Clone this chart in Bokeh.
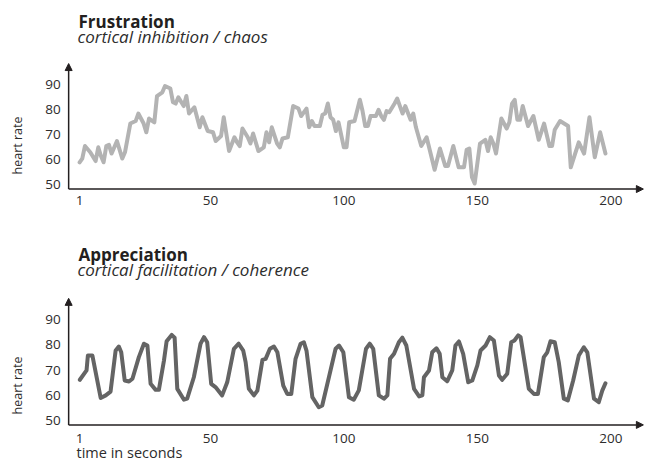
from bokeh.plotting import figure
from bokeh.layouts import column
from bokeh.models import Arrow, NormalHead, FixedTicker, Range1d, Label
from bokeh.embed import file_html
from bokeh.resources import INLINE

# ---- data ----
frus_t = [1, 2, 3, 5, 7, 8, 9, 10, 11, 12, 13, 15, 17, 18, 20, 22, 23, 25, 26, 27,
          29, 30, 32, 33, 35, 36, 37, 38, 40, 41, 42, 44, 46, 47, 49, 51, 52, 54, 55, 57,
          59, 60, 61, 62, 64, 65, 66, 68, 70, 71, 72, 73, 75, 76, 77, 79, 81, 83, 84, 86,
          87, 88, 89, 91, 92, 93, 94, 95, 96, 97, 98, 100, 101, 102, 104, 106, 107, 108, 109, 110,
          112, 113, 114, 115, 116, 117, 119, 120, 122, 123, 125, 126, 127, 129, 131, 134, 136, 138, 139, 141,
          143, 145, 146, 147, 148, 149, 151, 153, 154, 155, 156, 157, 159, 161, 162, 163, 164, 165, 166, 167,
          169, 171, 173, 175, 177, 178, 179, 181, 184, 185, 188, 190, 192, 194, 196, 198]
frus_hr = [59, 60.5, 65.5, 63, 59.5, 65, 61.5, 59, 65.5, 66, 62.5, 67.5, 60.5, 63, 74.5, 75.5, 78.5, 74.5, 71, 76.5,
           75, 85.5, 87, 89.5, 88.5, 83, 82.5, 85, 81.5, 85.5, 78.5, 81, 73, 77, 71.5, 71, 67.5, 69.5, 77, 63.5,
           69, 67, 65.5, 72.5, 69, 66.5, 70.5, 63.5, 65, 71, 67, 73, 66.5, 65, 68.5, 69, 81.5, 80.5, 77.5, 80.5,
           73, 75.5, 73.5, 73.5, 78, 78.5, 82.5, 77, 76, 71.5, 75, 65, 65, 75, 75.5, 84, 79.5, 73.5, 73.5, 77.5,
           77.5, 80, 77.5, 76, 79.5, 79, 82.5, 84.5, 78.5, 81.5, 76, 78.5, 73, 65.5, 69, 56, 64.5, 57.5, 57.5, 65.5,
           57, 57, 64, 64.5, 53, 50.5, 66.5, 68, 63.5, 69, 66.5, 62.5, 76.5, 72.5, 75, 82.5, 84, 76, 76, 81.5,
           73.5, 77.5, 68, 74.5, 65.5, 65.5, 72, 75.5, 73.5, 57, 67, 62.5, 77, 61, 71, 62.5]

appr_t = [1.1, 3.6, 4.1, 5.8, 8.9, 10.8, 12.6, 14.5, 15.7, 16.6, 17.9, 19.5, 20.8, 23.2, 25.1, 26.4, 27.6, 29.5, 30.7, 32.6,
          33.6, 35.5, 36.6, 37.6, 40.1, 41.3, 43.8, 46.3, 47.6, 48.8, 50.3, 51.9, 54.4, 56.3, 58.8, 60.6, 62.3, 63.2, 64.4, 66.3,
          67.6, 69.5, 70.7, 72.3, 73.8, 75.1, 77.3, 78.8, 80.3, 81.9, 83.8, 85, 86, 88.2, 90.6, 91.9, 94.4, 96.9, 98.2, 99.8,
          101.9, 103.7, 105.6, 108.3, 109.7, 111, 113.1, 115, 116.3, 117.3, 118.8, 120.6, 121.9, 123.4, 126.3, 128.2, 129.4, 130, 131.9, 133.1,
          134.7, 135.9, 136.9, 138.7, 140.6, 141.8, 143.1, 144.7, 146.6, 148.1, 150, 151.2, 153.1, 154.7, 156.2, 158.1, 159.3, 161.2, 162.7, 163.9,
          165.3, 166.2, 169.3, 171.2, 172.7, 174.9, 176.2, 177.4, 179, 180.5, 182.4, 183.9, 185.9, 188, 189.9, 191.2, 193.7, 195.5, 196.8, 198]
appr_hr = [66.2, 69.9, 75.8, 75.8, 59, 60, 61.5, 77.8, 79.4, 77.1, 65.9, 65.5, 66.6, 75.2, 80.5, 79.8, 64.6, 62.2, 62.2, 73.8,
           81.5, 84, 82.9, 62.6, 58.3, 58.7, 67.2, 80.5, 83.1, 81.1, 64.6, 63.3, 60, 65.2, 78.5, 80.5, 77.8, 73.2, 62.6, 60,
           61.9, 74.1, 74.5, 78.5, 79.4, 77.1, 63.9, 60.6, 60.6, 74.5, 80.5, 81.1, 77.8, 59.3, 55.3, 56, 67.2, 78.5, 79.8, 77.1,
           59.3, 58.3, 62, 78.5, 80.5, 78.5, 60, 58.7, 60, 74.5, 76.5, 81.1, 82.9, 79.8, 62.6, 59.6, 60, 67.2, 69.9, 77.1,
           78.7, 76.5, 67.2, 65.6, 69.9, 79.8, 81.4, 76.5, 65.2, 65.9, 71.9, 77.8, 79.8, 83.1, 81.8, 67.9, 66.2, 68.6, 81.1, 81.8,
           83.8, 83.1, 62.6, 60.6, 60.6, 75.2, 77.1, 81.5, 81.1, 73.2, 58.7, 58, 65.9, 75.8, 79.1, 77.1, 58.7, 57.3, 61.9, 64.8]

x_ticks = [1, 50, 100, 150, 200]
y_ticks = [50, 60, 70, 80, 90]

FONT = "Open Sans"
INK = "#231f20"
TXT = "#2d2d2d"

W = 645
X_RANGE = (-28.63, 213.0)   # whole canvas width
AX_X = -3.1                 # where the y axis sits
AX_Y = 48.3                 # where the x axis sits
TIP_X = 212.2
TIP_Y = 98.5


def canvas_text(p, x, y, text, **kw):
    p.add_layout(Label(x=x, y=y, x_units="canvas", y_units="canvas", text=text, **kw))


def make_panel(name, sub, t, hr, color, height, y_rng, title_base, label_mid, x_std, xlabel_base=None):
    p = figure(width=W, height=height, x_range=Range1d(*X_RANGE), y_range=Range1d(*y_rng),
               output_backend="svg", toolbar_location=None,
               min_border_left=0, min_border_right=0, min_border_top=0, min_border_bottom=0,
               outline_line_color=None, background_fill_color="white", border_fill_color="white")
    p.grid.visible = False
    p.line(t, hr, line_color=color, line_width=4, line_join="round", line_cap="round")
    for ax, ticks in ((p.xaxis, x_ticks), (p.yaxis, y_ticks)):
        ax.ticker = FixedTicker(ticks=ticks)
        ax.axis_line_color = None
        ax.major_tick_line_color = None
        ax.minor_tick_line_color = None
        ax.major_tick_out = 0
        ax.major_tick_in = 0
        ax.minor_tick_out = 0
        ax.major_label_text_font = FONT
        ax.major_label_text_font_size = "13.5px"
        ax.major_label_text_color = TXT
    p.xaxis.fixed_location = AX_Y
    p.yaxis.fixed_location = AX_X
    p.xaxis.major_label_standoff = x_std
    p.yaxis.major_label_standoff = 8
    p.add_layout(Arrow(end=NormalHead(size=7, fill_color=INK, line_color=INK, line_width=1),
                       x_start=AX_X, y_start=AX_Y, x_end=TIP_X, y_end=AX_Y,
                       line_color=INK, line_width=1.5))
    p.add_layout(Arrow(end=NormalHead(size=7, fill_color=INK, line_color=INK, line_width=1),
                       x_start=AX_X, y_start=AX_Y, x_end=AX_X, y_end=TIP_Y,
                       line_color=INK, line_width=1.5))
    canvas_text(p, 78, title_base, name,
                text_font=FONT, text_font_style="bold", text_font_size="17px", text_color=INK,
                text_align="left", text_baseline="alphabetic")
    canvas_text(p, 77, title_base + 15, sub,
                text_font=FONT, text_font_style="italic", text_font_size="17px", text_color=TXT,
                text_align="left", text_baseline="alphabetic")
    canvas_text(p, 17, label_mid, "heart rate", angle=90, angle_units="deg",
                text_font=FONT, text_font_size="12.5px", text_color=TXT,
                text_align="center", text_baseline="middle")
    if xlabel_base is not None:
        canvas_text(p, 76, xlabel_base, "time in seconds",
                    text_font=FONT, text_font_size="14.5px", text_color=TXT,
                    text_align="left", text_baseline="alphabetic")
    return p


top = make_panel("Frustration", "cortical inhibition / chaos", frus_t, frus_hr, "#b3b3b3",
                 232, (30.92, 123.72), title_base=21, label_mid=145, x_std=7)
bottom = make_panel("Appreciation", "cortical facilitation / coherence", appr_t, appr_hr, "#646464",
                    229, (33.77, 124.64), title_base=22, label_mid=153, x_std=9,
                    xlabel_base=220)

layout = column(top, bottom, spacing=0)
open("out.html", "w").write(file_html(layout, INLINE))
